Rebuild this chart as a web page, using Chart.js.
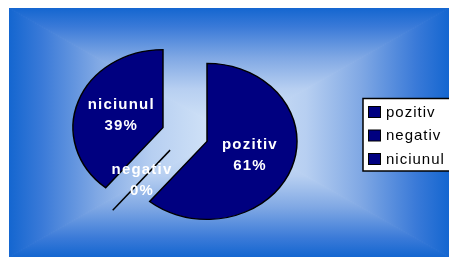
<!DOCTYPE html>
<html><head><meta charset="utf-8">
<script src="https://cdn.jsdelivr.net/npm/chart.js@4/dist/chart.umd.min.js"></script>
<style>html,body{margin:0;padding:0;background:#fff;overflow:hidden}#wrap{position:relative;width:449px;height:257px}</style>
</head><body><div id="wrap"><canvas id="c" width="449" height="257"></canvas></div>
<script>
const categories = ['pozitiv', 'negativ', 'niciunul'];
const values = [61, 0, 39];
const percentLabels = ['61%', '0%', '39%'];

const SY = 0.867;      // vertical squash of the pie (elliptical look)
const EXPLODE = 23.4;  // explode distance of each slice

function drawBg(ctx) {
  const x0 = 9, y0 = 8, x1 = 449, y1 = 257, cx = (x0 + x1) / 2, cy = (y0 + y1) / 2;
  ctx.fillStyle = '#fff'; ctx.fillRect(0, 0, 449, 257);
  const stops = [[0, '#d8e8f9'], [0.35, '#b7cff1'], [0.6, '#80a8e4'], [0.85, '#3a7ad8'], [1, '#1466d0']];
  const tri = (pts, gx0, gy0) => {
    const g = ctx.createLinearGradient(gx0, gy0, cx, cy);
    stops.forEach(s => g.addColorStop(1 - s[0], s[1]));
    ctx.beginPath(); ctx.moveTo(pts[0][0], pts[0][1]); ctx.lineTo(pts[1][0], pts[1][1]); ctx.lineTo(cx, cy); ctx.closePath();
    ctx.fillStyle = g; ctx.fill(); ctx.strokeStyle = g; ctx.lineWidth = 1; ctx.stroke();
  };
  ctx.save();
  ctx.beginPath(); ctx.rect(x0, y0, x1 - x0, y1 - y0); ctx.clip();
  tri([[x0, y0], [x0, y1]], x0, cy);
  tri([[x1, y0], [x1, y1]], x1, cy);
  tri([[x0, y0], [x1, y0]], cx, y0);
  tri([[x0, y1], [x1, y1]], cx, y1);
  ctx.restore();
}

const piePlugin = {
  id: 'piePlugin',
  beforeDraw(chart) { drawBg(chart.ctx); },
  beforeDatasetsDraw(chart) {
    const ctx = chart.ctx;
    const meta = chart.getDatasetMeta(0);
    const lines = [];
    meta.data.forEach((arc) => {
      const p = arc.getProps(['x', 'y', 'startAngle', 'endAngle', 'outerRadius', 'circumference'], true);
      const h = (p.startAngle + p.endAngle) / 2;
      if (p.circumference > 0) {
        ctx.save();
        ctx.translate(p.x, p.y); ctx.scale(1, SY);
        ctx.translate(Math.cos(h) * EXPLODE, Math.sin(h) * EXPLODE);
        ctx.translate(-p.x, -p.y);
        arc.draw(ctx);
        ctx.restore();
      } else {
        const vx = p.x + Math.cos(h) * EXPLODE, vy = p.y + SY * Math.sin(h) * EXPLODE;
        lines.push([vx, vy, vx + Math.cos(h) * p.outerRadius, vy + SY * Math.sin(h) * p.outerRadius]);
      }
    });
    lines.forEach(l => {
      ctx.save(); ctx.beginPath(); ctx.moveTo(l[0], l[1]); ctx.lineTo(l[2], l[3]);
      ctx.strokeStyle = '#000'; ctx.lineWidth = 1.5; ctx.stroke(); ctx.restore();
    });
    return false;
  },
  afterDraw(chart) {
    const ctx = chart.ctx;
    const meta = chart.getDatasetMeta(0);
    ctx.save();
    ctx.font = 'bold 15px "Liberation Sans", Arial, sans-serif';
    ctx.letterSpacing = '1.2px';
    ctx.fillStyle = '#fff'; ctx.textAlign = 'center'; ctx.textBaseline = 'middle';
    meta.data.forEach((arc, i) => {
      const p = arc.getProps(['x', 'y', 'startAngle', 'endAngle'], true);
      const h = (p.startAngle + p.endAngle) / 2;
      const c = arc.getCenterPoint(true);
      const X = p.x + Math.cos(h) * EXPLODE + (c.x - p.x);
      const Y = p.y + SY * (Math.sin(h) * EXPLODE + (c.y - p.y));
      ctx.fillText(chart.data.labels[i], X + 0.6, Y - 10);
      ctx.fillText(percentLabels[i], X + 0.6, Y + 11);
    });
    ctx.restore();

    // legend
    ctx.save();
    const bx = 363, by = 98.5, bw = 95, bh = 72.5;
    ctx.fillStyle = '#fff'; ctx.fillRect(bx, by, bw, bh);
    ctx.strokeStyle = '#000'; ctx.lineWidth = 1.5; ctx.strokeRect(bx, by, bw, bh);
    ctx.font = '15px "Liberation Sans", Arial, sans-serif';
    ctx.letterSpacing = '1px';
    ctx.textBaseline = 'middle'; ctx.textAlign = 'left';
    const rows = [112, 135.5, 159];
    chart.data.labels.forEach((lab, i) => {
      const col = chart.data.datasets[0].backgroundColor;
      ctx.fillStyle = Array.isArray(col) ? col[i] : col;
      ctx.fillRect(368.5, rows[i] - 5.5, 12, 11);
      ctx.strokeStyle = '#000'; ctx.lineWidth = 1; ctx.strokeRect(368.5, rows[i] - 5.5, 12, 11);
      ctx.fillStyle = '#000';
      ctx.fillText(lab, 386, rows[i] + 0.5);
    });
    ctx.restore();
  }
};

new Chart(document.getElementById('c'), {
  type: 'pie',
  data: {
    labels: categories,
    datasets: [{
      data: values,
      backgroundColor: '#000080',
      borderColor: '#000',
      borderWidth: 1.5,
      borderJoinStyle: 'miter',
      radius: 90,
      offset: 0,
      hoverOffset: 0
    }]
  },
  options: {
    responsive: false,
    animation: false,
    devicePixelRatio: 1,
    layout: { padding: { left: 0, right: 79, top: 20, bottom: 8 } },
    plugins: { legend: { display: false }, tooltip: { enabled: false } },
    events: []
  },
  plugins: [piePlugin]
});
</script>
</body></html>
